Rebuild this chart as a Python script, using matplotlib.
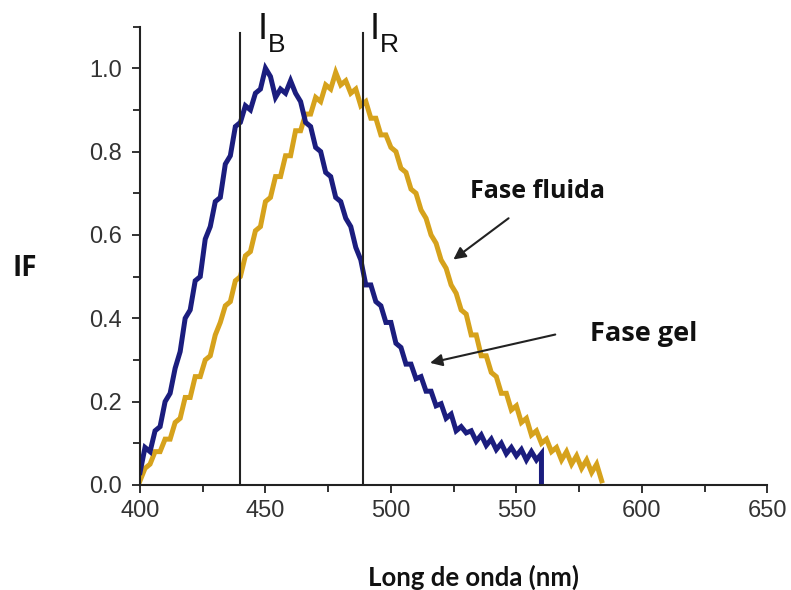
import numpy as np
import matplotlib
matplotlib.use("Agg")
import matplotlib.pyplot as plt
from matplotlib.ticker import MultipleLocator, FormatStrFormatter

# ---- data ----
gel_start, gel_step = 400, 2
gel_if = [0.03, 0.09, 0.08, 0.13, 0.14, 0.20, 0.22, 0.28, 0.32, 0.40, 0.42, 0.49, 0.50, 0.59,
          0.62, 0.68, 0.69, 0.77, 0.79, 0.86, 0.87, 0.91, 0.90, 0.94, 0.95, 1.00, 0.98, 0.93,
          0.95, 0.94, 0.97, 0.94, 0.92, 0.87, 0.86, 0.81, 0.80, 0.75, 0.74, 0.69, 0.68, 0.64,
          0.62, 0.57, 0.54, 0.48, 0.48, 0.44, 0.43, 0.39, 0.39, 0.34, 0.33, 0.29, 0.29, 0.255,
          0.26, 0.225, 0.225, 0.19, 0.195, 0.16, 0.17, 0.13, 0.14, 0.125, 0.13, 0.105, 0.12,
          0.095, 0.11, 0.085, 0.10, 0.075, 0.09, 0.07, 0.085, 0.06, 0.08, 0.06, 0.075]
gel_end_value = 0.0

fluid_start, fluid_step = 400, 2
fluid_if = [0.01, 0.04, 0.05, 0.08, 0.08, 0.11, 0.11, 0.15, 0.16, 0.21, 0.21, 0.26, 0.26, 0.30,
            0.31, 0.36, 0.39, 0.43, 0.44, 0.49, 0.50, 0.55, 0.56, 0.61, 0.62, 0.68, 0.69, 0.74,
            0.74, 0.79, 0.79, 0.85, 0.85, 0.89, 0.89, 0.93, 0.92, 0.96, 0.95, 0.99, 0.96, 0.97,
            0.94, 0.95, 0.91, 0.92, 0.88, 0.88, 0.84, 0.84, 0.81, 0.80, 0.76, 0.75, 0.71, 0.70,
            0.66, 0.64, 0.60, 0.58, 0.54, 0.52, 0.48, 0.46, 0.42, 0.41, 0.36, 0.36, 0.31, 0.31,
            0.27, 0.26, 0.22, 0.22, 0.18, 0.19, 0.15, 0.16, 0.12, 0.13, 0.10, 0.11, 0.08, 0.09,
            0.06, 0.08, 0.05, 0.07, 0.04, 0.06, 0.03, 0.05, 0.01]

band_lines = [440, 489]
band_labels = ["B", "R"]
x_ticks = [400, 450, 500, 550, 600, 650]
y_ticks = [0.0, 0.2, 0.4, 0.6, 0.8, 1.0]

gel_x = list(np.arange(len(gel_if)) * gel_step + gel_start)
gel_x.append(gel_x[-1])
gel_y = gel_if + [gel_end_value]
fluid_x = np.arange(len(fluid_if)) * fluid_step + fluid_start

# ---- figure ----
fig = plt.figure(figsize=(7.91, 5.90), dpi=100)
ax = fig.add_axes([0.177, 0.178, 0.793, 0.777])

col_gel = "#1b1d7e"
col_fluid = "#d6a21c"
ax.plot(fluid_x, fluid_if, color=col_fluid, lw=3.6, solid_joinstyle="miter")
ax.plot(gel_x, gel_y, color=col_gel, lw=3.6, solid_joinstyle="miter")

for xv in band_lines:
    ax.plot([xv, xv], [0, 1.085], color="#222222", lw=1.5)

tickfont = "Liberation Sans"
i_pos = [446.8, 491.5]
sub_pos = [451.0, 495.7]
for xi, xs, lab in zip(i_pos, sub_pos, band_labels):
    ax.text(xi, 1.0695, "I", fontsize=26, family=tickfont, color="#111111",
            ha="left", va="baseline", clip_on=False)
    ax.text(xs, 1.038, lab, fontsize=19, family=tickfont, color="#111111",
            ha="left", va="baseline", clip_on=False)

ax.set_xlim(400, 650)
ax.set_ylim(0, 1.1)
ax.spines["top"].set_visible(False)
ax.spines["right"].set_visible(False)
for s in ("left", "bottom"):
    ax.spines[s].set_linewidth(1.5)
    ax.spines[s].set_color("#222222")

ax.set_xticks(x_ticks)
ax.set_yticks(y_ticks)
ax.xaxis.set_minor_locator(MultipleLocator(25))
ax.yaxis.set_minor_locator(MultipleLocator(0.1))
ax.yaxis.set_major_formatter(FormatStrFormatter("%.1f"))
ax.tick_params(which="major", length=6, width=1.3, color="#222222",
               labelsize=17, labelcolor="#333333")
ax.tick_params(which="minor", length=5, width=1.3, color="#222222")
ax.tick_params(axis="x", which="major", pad=5)
ax.tick_params(axis="y", which="major", pad=7)
for lab in ax.get_xticklabels() + ax.get_yticklabels():
    lab.set_family(tickfont)

labfont = "Open Sans"
ax.text(531.6, 0.705, "Fase fluida", fontsize=18, fontweight="bold", family=labfont,
        ha="left", va="center", color="#111111")
ax.text(579.5, 0.363, "Fase gel", fontsize=19.5, fontweight="bold", family=labfont,
        ha="left", va="center", color="#111111")
ax.annotate("", xy=(524.9, 0.541), xytext=(546.9, 0.640),
            arrowprops=dict(arrowstyle="-|>", lw=1.5, color="#222222", mutation_scale=18,
                            shrinkA=0, shrinkB=0))
ax.annotate("", xy=(515.6, 0.293), xytext=(565.5, 0.361),
            arrowprops=dict(arrowstyle="-|>", lw=1.5, color="#222222", mutation_scale=18,
                            shrinkA=0, shrinkB=0))

fig.text(0.031, 0.545, "IF", fontsize=20, fontweight="bold", family=labfont,
         ha="center", va="center", color="#111111")
fig.text(0.599, 0.022, "Long de onda (nm)", fontsize=18.5, fontweight="bold", family="Lato",
         ha="center", va="center", color="#111111")

fig.savefig("out.png", dpi=100, facecolor="white")
